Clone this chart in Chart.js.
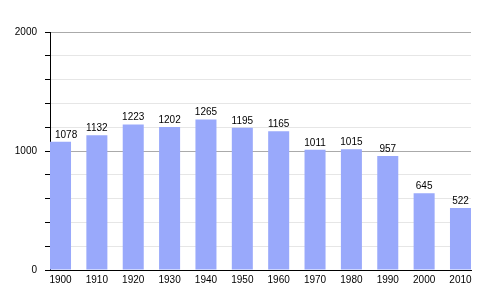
<!DOCTYPE html>
<html>
<head>
<meta charset="utf-8">
<script src="https://cdn.jsdelivr.net/npm/chart.js@4"></script>
<style>
  html, body { margin: 0; padding: 0; background: #fff; }
  #wrap { width: 500px; height: 300px; }
</style>
</head>
<body>
<div id="wrap"><canvas id="c" width="500" height="300"></canvas></div>
<script>
const years = ["1900", "1910", "1920", "1930", "1940", "1950", "1960", "1970", "1980", "1990", "2000", "2010"];
const population = [1078, 1132, 1223, 1202, 1265, 1195, 1165, 1011, 1015, 957, 645, 522];
const yLabels = [0, 1000, 2000];

// bars touch both plot edges, so pad the x range by half a bar
const barFrac = 0.578;
const halfBar = barFrac / 2;

const valueLabels = {
    id: "valueLabels",
    afterDatasetsDraw(chart) {
        const ctx = chart.ctx;
        const meta = chart.getDatasetMeta(0);
        const left = chart.chartArea.left;
        ctx.save();
        ctx.font = "10px 'Liberation Sans', Arial, sans-serif";
        ctx.fillStyle = "#000";
        ctx.textAlign = "center";
        ctx.textBaseline = "alphabetic";
        meta.data.forEach((bar, i) => {
            const txt = String(population[i]);
            const half = ctx.measureText(txt).width / 2;
            // keep the label clear of the y axis
            const x = Math.max(bar.x, left + half + 5);
            ctx.fillText(txt, x, bar.y - 4);
        });
        ctx.restore();
    }
};

new Chart(document.getElementById("c").getContext("2d"), {
    type: "bar",
    data: {
        datasets: [{
            data: population.map((v, i) => ({ x: i, y: v })),
            backgroundColor: "#99a9fb",
            borderWidth: 0,
            categoryPercentage: 1,
            barPercentage: barFrac
        }]
    },
    options: {
        responsive: false,
        animation: false,
        layout: { padding: { top: 32, right: 29, left: 0, bottom: 0 } },
        plugins: { legend: { display: false }, tooltip: { enabled: false } },
        scales: {
            x: {
                type: "linear",
                offset: false,
                min: -halfBar,
                max: years.length - 1 + halfBar,
                afterBuildTicks: scale => { scale.ticks = years.map((_, i) => ({ value: i })); },
                afterFit: scale => { scale.height = 30; },
                grid: { display: false, drawTicks: false },
                border: { display: true, color: "#000", width: 1 },
                ticks: {
                    padding: 4,
                    color: "#000",
                    font: { family: "'Liberation Sans', Arial, sans-serif", size: 10 },
                    maxRotation: 0,
                    autoSkip: false,
                    callback: v => years[v]
                }
            },
            y: {
                min: 0,
                max: 2000,
                afterFit: scale => { scale.width = 50; },
                grid: {
                    color: ctx => (ctx.tick && ctx.tick.value % 1000 === 0) ? "#aaaaaa" : "#e6e6e6",
                    tickColor: "#000",
                    tickLength: 5
                },
                border: { display: true, color: "#000", width: 1 },
                ticks: {
                    stepSize: 200,
                    padding: 8,
                    color: "#000",
                    font: { family: "'Liberation Sans', Arial, sans-serif", size: 10 },
                    callback: v => yLabels.includes(v) ? String(v) : ""
                }
            }
        }
    },
    plugins: [valueLabels]
});
</script>
</body>
</html>
